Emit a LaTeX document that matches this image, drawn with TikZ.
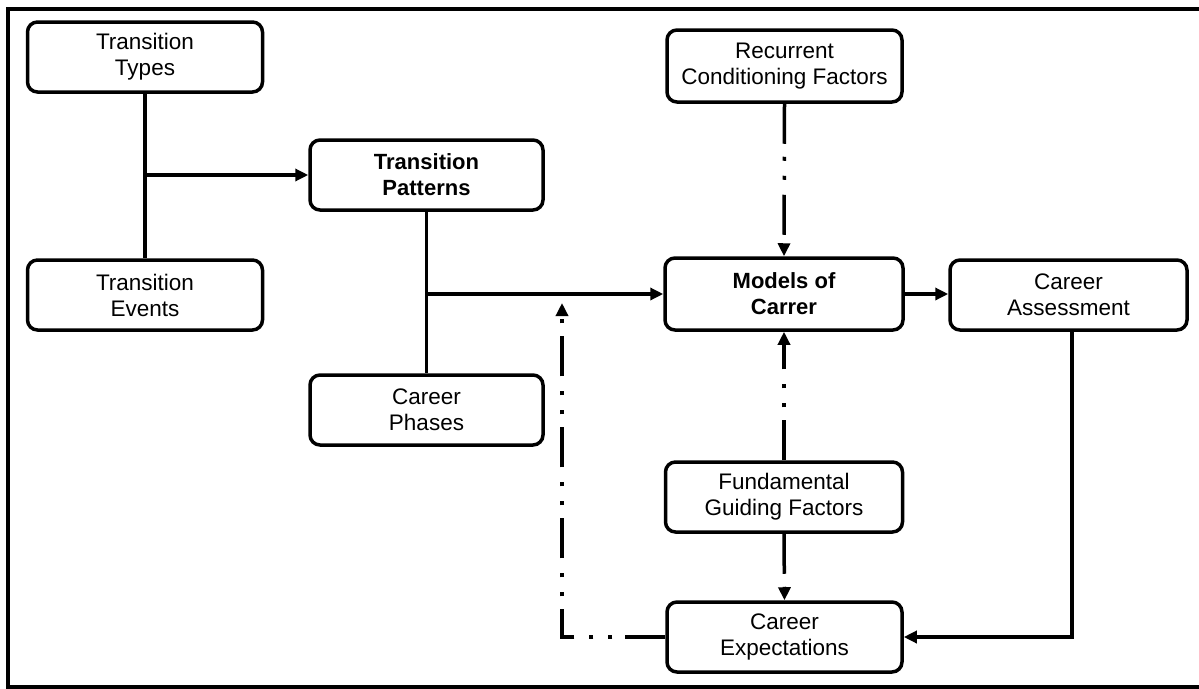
\documentclass[tikz,border=0pt]{standalone}
\usepackage{fontspec}
\setmainfont{Liberation Sans}
\usetikzlibrary{arrows.meta}
\tikzset{
  box/.style={draw, line width=3.5pt, rounded corners=10pt, minimum width=235pt, minimum height=70pt,
    inner sep=0pt, align=center, font=\fontsize{22.5}{26}\selectfont, fill=white},
  bbox/.style={box, font=\fontsize{22}{26}\selectfont\bfseries},
  tip/.style={-{Triangle[length=13pt,width=12pt]}},
  conn/.style={line width=3.5pt, tip},
  plain/.style={line width=3.5pt},
  dashdot/.style={line width=3.5pt, dash pattern=on 40pt off 13pt on 4pt off 15pt on 4pt off 15pt},
}
\begin{document}
\begin{tikzpicture}[x=1pt,y=-1pt]
\useasboundingbox (0,0) rectangle (1199,688);
\draw[line width=4pt] (1199,9) -- (7.5,9) -- (7.5,686.5) -- (1199,686.5);

\node[box] (types) at (145,57) {Transition\\Types};
\node[box] (events) at (145,295) {Transition\\Events};
\node[bbox, minimum width=233pt] (patterns) at (426.5,175) {Transition\\Patterns};
\node[box, minimum width=233pt] (phases) at (426.5,410) {Career\\Phases};
\node[box, minimum height=72pt] (recurrent) at (784.5,66) {Recurrent\\Conditioning Factors};
\node[bbox, minimum width=238pt, minimum height=72pt] (models) at (784,294) {Models of\\Carrer};
\node[box, minimum width=237pt] (assess) at (1068.5,295) {Career\\Assessment};
\node[box, minimum width=237pt] (fund) at (784,497) {Fundamental\\Guiding Factors};
\node[box] (expect) at (784.5,637) {Career\\Expectations};

% left tree
\draw[plain] (types.south) -- (events.north);
\coordinate (j1) at (145,175);
\draw[conn] (j1) -- (patterns.west);

% patterns tree
\draw[plain] (patterns.south) -- (phases.north);
\coordinate (j2) at (426.5,294);
\draw[conn] (j2) -- (models.west);

% models -> assessment
\draw[conn] (models.east) -- (assess.west |- models.east);

% assessment -> expectations
\coordinate (c1) at (1072,637);
\draw[conn] (assess.south -| c1) -- (c1) -- (expect.east);

% recurrent -> models
\draw[dashdot, tip] (recurrent.south) -- (models.north);
% fundamental -> models
\draw[dashdot, tip] (fund.north) -- (models.south);
% fundamental -> expectations
\draw[dashdot, tip] (fund.south) -- (expect.north);
% expectations -> loop up
\coordinate (c2) at (562,637);
\coordinate (c3) at (562,303);
\draw[dashdot, tip] (expect.west) -- (c2) -- (c3);
\end{tikzpicture}
\end{document}
